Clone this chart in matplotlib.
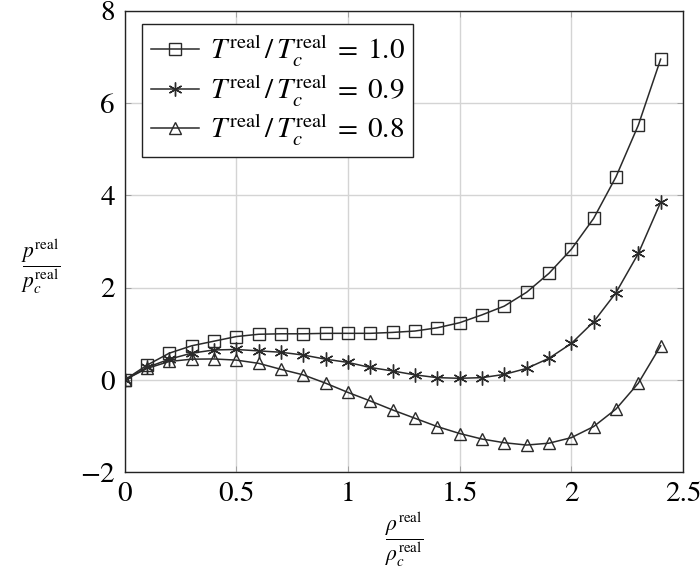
import matplotlib
matplotlib.use("Agg")
import matplotlib.pyplot as plt

plt.rcParams['font.family'] = ['STIXGeneral', 'DejaVu Serif']
plt.rcParams['mathtext.fontset'] = 'stix'

# reduced density rho/rho_c
rho = [0.0, 0.1, 0.2, 0.3, 0.4, 0.5, 0.6, 0.7, 0.8, 0.9, 1.0, 1.1, 1.2,
       1.3, 1.4, 1.5, 1.6, 1.7, 1.8, 1.9, 2.0, 2.1, 2.2, 2.3, 2.4]

# reduced pressure p/p_c
p_t10 = [0.0, 0.32, 0.58, 0.74, 0.84, 0.94, 0.99, 1.0, 1.0, 1.01, 1.01, 1.01, 1.03,
         1.06, 1.13, 1.24, 1.41, 1.60, 1.90, 2.31, 2.83, 3.50, 4.40, 5.52, 6.95]
p_t09 = [0.0, 0.27, 0.45, 0.58, 0.65, 0.66, 0.63, 0.60, 0.54, 0.45, 0.38, 0.27, 0.195,
         0.11, 0.05, 0.036, 0.05, 0.12, 0.25, 0.47, 0.79, 1.26, 1.89, 2.74, 3.85]
p_t08 = [0.0, 0.25, 0.40, 0.45, 0.455, 0.43, 0.36, 0.23, 0.11, -0.07, -0.27, -0.455, -0.65,
         -0.83, -1.01, -1.16, -1.28, -1.36, -1.41, -1.37, -1.25, -1.01, -0.63, -0.07, 0.74]

labels = [r'$T^{\mathrm{real}}\,/\,T_c^{\mathrm{real}}\;=\;1.0$',
          r'$T^{\mathrm{real}}\,/\,T_c^{\mathrm{real}}\;=\;0.9$',
          r'$T^{\mathrm{real}}\,/\,T_c^{\mathrm{real}}\;=\;0.8$']

xticks = [0, 0.5, 1, 1.5, 2, 2.5]
xticklabels = ['0', '0.5', '1', '1.5', '2', '2.5']
yticks = [-2, 0, 2, 4, 6, 8]
yticklabels = ['\u22122', '0', '2', '4', '6', '8']

fig = plt.figure(figsize=(7, 5.77), dpi=100)
ax = fig.add_axes([0.178, 0.1815, 0.7977, 0.8])

line_color = '#2a2a2a'
common = dict(color=line_color, linewidth=1.1, markerfacecolor='none',
              markeredgecolor=line_color, markeredgewidth=1.0)

ax.plot(rho, p_t10, marker='s', markersize=9, label=labels[0], **common)
ax.plot(rho, p_t09, marker=(6, 2, 0), markersize=10, label=labels[1], **common)
ax.plot(rho, p_t08, marker='^', markersize=9, label=labels[2], **common)

ax.set_xlim(0, 2.5)
ax.set_ylim(-2, 8)
ax.set_xticks(xticks)
ax.set_xticklabels(xticklabels)
ax.set_yticks(yticks)
ax.set_yticklabels(yticklabels)
ax.tick_params(labelsize=21, direction='in', length=4, width=0.6, color='#999999',
               pad=7, top=True, right=True)
ax.grid(True, color='#d4d4d4', linewidth=1.0)
ax.set_axisbelow(True)
for s in ax.spines.values():
    s.set_linewidth(1.0)
    s.set_color('#222222')

leg = ax.legend(loc='upper left', bbox_to_anchor=(0.032, 0.971), borderaxespad=0,
                fontsize=21, handlelength=1.65, handletextpad=0.35, labelspacing=0.12,
                borderpad=0.3, fancybox=False, framealpha=1, edgecolor='#222222')
leg.get_frame().set_linewidth(1.0)

fig.text(404 / 700, 1 - 540 / 577, r'$\dfrac{\rho^{\mathrm{real}}}{\rho_c^{\mathrm{real}}}$',
         fontsize=15.5, ha='center', va='center')
fig.text(41 / 700, 1 - 267 / 577, r'$\dfrac{p^{\mathrm{real}}}{p_c^{\mathrm{real}}}$',
         fontsize=15.5, ha='center', va='center')

fig.savefig('out.png', dpi=100)
